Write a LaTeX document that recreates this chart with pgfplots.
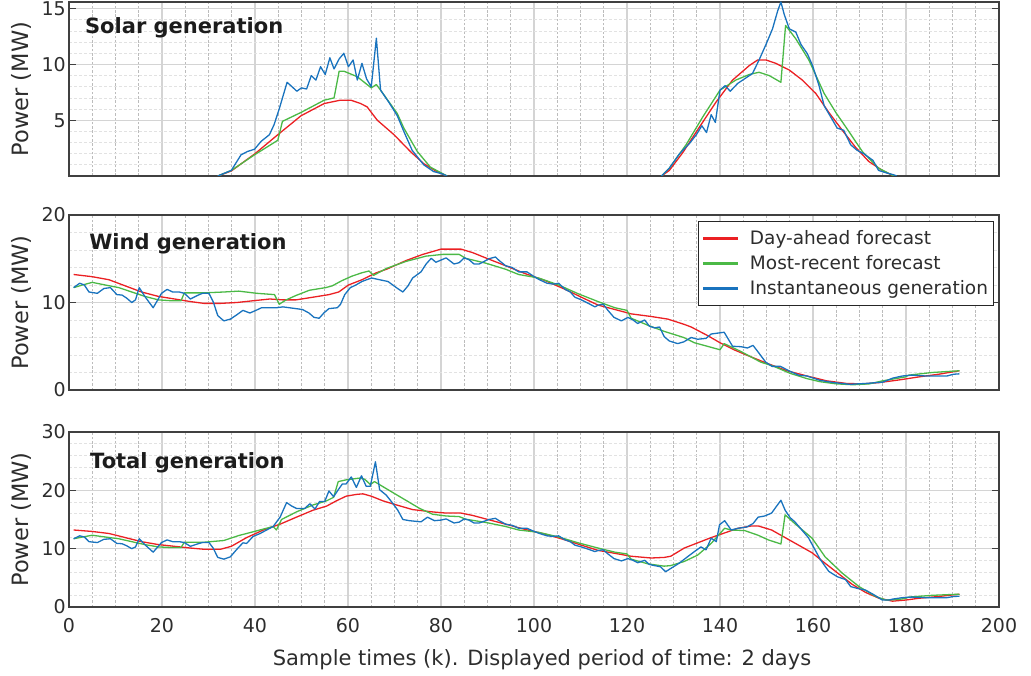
\documentclass[border=0pt]{standalone}
\usepackage{fontspec}
\setmainfont{DejaVu Sans}
\usepackage{pgfplots}
\pgfplotsset{compat=1.18}

\definecolor{dayahead}{RGB}{235,32,35}
\definecolor{recent}{RGB}{75,185,70}
\definecolor{instant}{RGB}{25,115,190}
\definecolor{gridmaj}{RGB}{212,212,212}
\definecolor{gridminx}{RGB}{188,188,188}
\definecolor{gridminy}{RGB}{226,226,226}
\definecolor{axisc}{RGB}{64,64,64}
\definecolor{labc}{RGB}{45,45,45}
\definecolor{titc}{RGB}{28,28,28}

\tikzset{paneltitle/.style={anchor=base west, font=\bfseries\fontsize{21}{24}\selectfont, text=titc}}

\pgfplotsset{
  panel/.style={
    scale only axis, width=930pt,
    xmin=0, xmax=200,
    xtick={0,20,...,200}, minor x tick num=3,
    grid=both,
    major grid style={draw=gridmaj, line width=1.2pt},
    minor x grid style={draw=gridminx, line width=0.8pt, dash pattern=on 2.5pt off 1.8pt},
    minor y grid style={draw=gridminy, line width=0.8pt, dash pattern=on 3pt off 2pt},
    axis line style={draw=axisc, line width=1.1pt},
    tick align=inside, major tick length=7pt, minor tick length=0pt,
    ytick style={draw=axisc, line width=1pt},
    xtick style={draw=none},
    tick label style={font=\fontsize{19}{22}\selectfont, text=labc},
    yticklabel style={inner sep=3pt},
    /pgf/number format/assume math mode=true,
    ylabel={Power (MW)},
    ylabel style={font=\fontsize{22.5}{26}\selectfont, text=labc,
      at={(axis description cs:-0.0366,0.5)}, anchor=south},
    every axis plot/.append style={line width=1.3pt, line join=round},
  },
}

\begin{document}
\begin{tikzpicture}[x=1pt,y=1pt]
\path[use as bounding box] (0,0) rectangle (1031,-676);

% ---------------- Solar generation ----------------
\begin{axis}[panel, at={(69pt,-2pt)}, anchor=north west, height=174pt,
  ymin=0, ymax=15.6, ytick={5,10,15},
  minor ytick={1,2,3,4,6,7,8,9,11,12,13,14},
  xticklabels={}]
% first day
\addplot[dayahead] coordinates {(32,0) (34.9,0.45) (40,2.0) (44.9,3.7) (49.9,5.4) (54.9,6.5) (58.4,6.8) (60.6,6.8) (62.7,6.5) (64.1,6.2) (66.3,5.0) (69.9,3.7) (73.4,2.2) (76.3,1.1) (79.1,0.4) (81.3,0)};
\addplot[recent] coordinates {(32,0) (34.9,0.5) (39.9,1.9) (44.9,3.2) (45.9,4.9) (49.9,5.7) (54.9,6.8) (57,7.0) (58.1,9.4) (59.1,9.4) (62,8.9) (65,7.9) (66.1,8.2) (67,7.7) (70.6,5.6) (72,4.3) (74.9,2.2) (77.7,0.8) (81.3,0)};
\addplot[instant] coordinates {(32,0) (34.9,0.5) (37,1.9) (38.4,2.2) (39.9,2.4) (41.3,3.1) (43.1,3.7) (44.1,4.6) (45.2,6.0) (46.9,8.4) (48.1,7.95) (49,7.6) (50,7.9) (51.1,7.8) (52.1,9.0) (53.1,8.6) (54.1,9.8) (55.1,9.1) (56.1,10.6) (57,9.6) (58.1,10.5) (59.1,11.0) (60.1,9.8) (61.1,10.4) (62,8.6) (63,10.1) (64,8.7) (65,8.0) (66.1,12.35) (67,7.7) (68.8,6.6) (70.6,5.4) (72,4.0) (73.8,2.3) (76.3,1.0) (78.4,0.4) (80.2,0.2) (81.3,0)};
% second day
\addplot[dayahead] coordinates {(127.4,0) (129.1,0.5) (132,2.1) (135.6,4.4) (139.1,6.6) (142.7,8.6) (146.3,9.9) (148.1,10.4) (149.9,10.4) (152,10.1) (154.9,9.5) (157.7,8.6) (160.6,7.4) (163.4,5.7) (166.3,4.1) (169.1,2.6) (172,1.3) (174.9,0.5) (177.4,0)};
\addplot[recent] coordinates {(127.4,0) (129.1,0.7) (132.7,2.8) (136.3,5.3) (140,7.7) (143.4,8.6) (146.3,9.1) (148.4,9.3) (150.6,9.0) (153.1,8.4) (154.1,13.5) (156.3,12.3) (159.1,10.4) (162.4,7.4) (164.9,5.7) (167.7,4.0) (170.6,2.2) (174.1,0.7) (177.4,0)};
\addplot[instant] coordinates {(127.4,0) (129.1,0.7) (131.3,2.0) (133.4,2.9) (134.9,3.7) (136.1,4.5) (137.1,3.9) (138.1,5.5) (139,4.8) (140,7.7) (141.1,8.1) (142.2,7.6) (143.8,8.3) (145.6,8.8) (147,9.2) (148.4,10.4) (149.9,11.8) (151.3,13.2) (152.4,14.8) (153.1,15.6) (153.8,14.5) (154.9,13.2) (156.3,12.9) (157.4,11.8) (158.8,10.95) (159.9,9.9) (161.3,8.1) (162.4,6.3) (163.8,5.3) (165.2,4.3) (166.6,4.1) (168.1,2.8) (169.5,2.3) (170.9,2.0) (172.9,1.4) (174.1,0.5) (175.6,0.3) (177.4,0.1) (178,0)};
\node[paneltitle] at (axis description cs:0.0135,0.819) {Solar generation};
\end{axis}

% ---------------- Wind generation ----------------
\begin{axis}[panel, at={(69pt,-215pt)}, anchor=north west, height=175pt,
  ymin=0, ymax=20, ytick={0,10,20},
  minor ytick={2,4,6,8,12,14,16,18},
  xticklabels={},
  legend cell align=left,
  legend image code/.code={\draw[#1, line width=3pt] (0pt,0pt) -- (35pt,0pt);
    \path[draw=none] (0pt,0pt) (44pt,0pt);},
  legend style={at={(0.9946,0.9657)}, anchor=north east, draw=black!85,
    line width=1pt, fill=white, font=\fontsize{18.5}{21}\selectfont, text=labc,
    inner xsep=3pt, inner ysep=6.5pt, row sep=4.5pt, nodes={inner sep=2.5pt}}]
\addplot[dayahead] coordinates {(1,13.2) (5,12.95) (8.6,12.6) (12.1,11.9) (15.6,11.2) (19.2,10.7) (22.7,10.4) (26.2,10.1) (29,9.9) (32.6,9.9) (36.1,10.0) (39.6,10.2) (43.2,10.4) (46,10.3) (48.8,10.3) (52.4,10.6) (55.9,10.9) (58,11.2) (60.1,12.0) (63,12.6) (66.1,13.4) (68.3,13.8) (72.5,14.8) (76.1,15.5) (80,16.1) (84.3,16.1) (86.8,15.7) (89.6,15.1) (93.9,14.2) (98.1,13.3) (102.4,12.5) (106.7,11.5) (110.2,10.6) (113.8,9.7) (118.1,9.1) (120.9,8.7) (125.2,8.4) (128.8,8.1) (132.3,7.5) (133.8,7.2) (137.4,6.2) (140,5.4) (143,4.6) (146.6,3.8) (150.1,3.05) (154.4,2.2) (158.7,1.6) (162.9,1.05) (167.2,0.75) (170.7,0.7) (174.3,0.85) (178.5,1.15) (182.8,1.5) (187,1.8) (191.5,2.2)};
\addlegendentry{Day-ahead forecast}
\addplot[recent] coordinates {(1,11.7) (2.9,12.0) (5,12.3) (7.8,12.0) (10.7,11.7) (13.5,11.2) (16.3,10.7) (19.2,10.3) (22,10.2) (24.1,10.2) (24.8,11.1) (29,11.1) (33.3,11.2) (36.5,11.3) (40.4,11.05) (44.2,10.9) (45.2,9.8) (46.7,10.3) (48.8,10.8) (51.7,11.4) (55.2,11.7) (56.6,11.9) (58.7,12.5) (60.8,13.0) (63,13.4) (64.5,13.6) (65.5,13.1) (68.3,13.9) (72.5,14.7) (76.8,15.3) (80.4,15.5) (83.9,15.5) (85.3,15.05) (89.6,14.5) (93.9,13.8) (96.7,13.2) (101,12.8) (105.3,12.0) (109.5,11.0) (113.8,10.1) (117.4,9.4) (120,9.1) (120.9,8.2) (124.5,7.4) (128,6.7) (132.2,6.0) (134.5,5.4) (140,4.6) (140.9,5.3) (144.5,4.4) (148.7,3.2) (151.6,2.7) (155.1,1.9) (158.7,1.3) (161.5,0.95) (165,0.7) (168.6,0.6) (172.1,0.7) (175,1.05) (179.9,1.5) (180.6,1.7) (185.6,2.0) (191.5,2.2)};
\addlegendentry{Most-recent forecast}
\addplot[instant] coordinates {(1,11.7) (2.3,12.2) (3.3,12.0) (4.3,11.2) (6.1,11.05) (7.5,11.6) (8.9,11.7) (10.3,10.9) (11.4,10.85) (12.4,10.5) (13.5,10.0) (14.3,10.3) (15.1,11.7) (16.3,10.7) (18.1,9.4) (19.9,11.05) (21.1,11.5) (22.3,11.2) (23.7,11.2) (24.8,11.05) (26.1,10.4) (27.6,10.8) (28.7,11.05) (30.1,11.05) (31,10.1) (32,8.5) (33.3,7.9) (34.7,8.1) (36.1,8.6) (37.4,9.1) (38.9,8.8) (40.2,9.1) (41.4,9.4) (42.8,9.4) (44.6,9.4) (46,9.5) (47.4,9.4) (48.8,9.3) (50.2,9.2) (51.6,8.8) (52.7,8.3) (53.8,8.2) (54.8,8.8) (55.9,9.3) (57.7,9.4) (58.4,9.8) (59.3,10.9) (60.5,11.7) (61.7,12.0) (63,12.4) (64,12.6) (65.1,12.8) (66.8,12.6) (68.6,12.4) (70.4,11.7) (71.8,11.2) (72.9,11.9) (73.9,12.8) (75.7,13.5) (76.8,14.4) (77.9,15.05) (78.9,14.6) (81.1,15.1) (82.8,14.4) (83.9,14.55) (85,15.1) (86,14.9) (87.1,14.4) (88.2,14.4) (89.3,14.7) (90.3,15.0) (91.7,15.2) (92.5,14.8) (93.9,14.2) (95.3,14.0) (96.7,13.5) (98.5,13.5) (99.6,13.1) (101,12.65) (102.8,12.2) (104.2,12.1) (105.3,12.2) (106.7,11.5) (107.8,11.2) (108.8,10.6) (110.2,10.3) (111.7,9.9) (113.1,9.5) (113.8,9.7) (114.9,9.8) (115.9,9.1) (117.2,8.3) (118.8,7.9) (120.2,8.3) (121.3,8.0) (122.3,7.6) (123.8,8.0) (124.8,7.3) (125.9,7.1) (127,7.2) (128,6.1) (129.1,5.6) (130.9,5.3) (132.2,5.5) (133.8,6.0) (135.2,5.8) (137,5.9) (138.1,6.4) (140.9,6.6) (142.7,5.0) (144.5,4.95) (145.9,4.8) (147.1,5.1) (148.4,4.2) (149.8,3.2) (151.2,2.7) (153,2.7) (154.8,2.2) (156.9,1.7) (158.7,1.6) (161.5,1.1) (164.4,0.85) (167.9,0.65) (171.4,0.75) (175,0.9) (177.1,1.35) (179.2,1.6) (181.3,1.7) (184.2,1.6) (187,1.6) (188.8,1.6) (190.2,1.8) (191.5,1.85)};
\addlegendentry{Instantaneous generation}
\node[paneltitle] at (axis description cs:0.018,0.8) {Wind generation};
\end{axis}

% ---------------- Total generation ----------------
\begin{axis}[panel, at={(69pt,-432pt)}, anchor=north west, height=175pt,
  ymin=0, ymax=30, ytick={0,10,20,30},
  minor ytick={2,4,6,8,12,14,16,18,22,24,26,28},
  xticklabel style={yshift=-8pt},
  xlabel={Sample times (k). Displayed period of time: 2 days},
  xlabel style={font=\fontsize{21}{24}\selectfont, text=labc,
    at={(axis description cs:0.5086,0)}, anchor=base, yshift=-58pt}]
\addplot[dayahead] coordinates {(1,13.2) (5,12.95) (8.6,12.6) (12.1,11.9) (15.6,11.2) (19.2,10.7) (22.7,10.4) (26.2,10.1) (29,9.9) (32.6,9.9) (34.9,10.4) (38.2,11.9) (41.8,13.2) (45.4,14.2) (48.9,15.4) (52.5,16.6) (55.4,17.3) (57.5,18.2) (59.6,19.0) (61.8,19.3) (63.2,19.4) (65,19.0) (67.5,18.2) (70.4,17.5) (73.9,16.7) (78.2,16.3) (81.1,16.1) (84.3,16.1) (86.8,15.7) (89.6,15.1) (93.9,14.2) (98.1,13.3) (102.4,12.5) (106.7,11.5) (110.2,10.6) (113.8,9.7) (118.1,9.1) (120.9,8.7) (125.2,8.4) (128,8.5) (129.4,8.7) (132.3,10.1) (135.2,11.0) (138.1,11.9) (141,12.7) (143.9,13.5) (146.8,13.9) (148.2,13.9) (151.1,13.2) (154,11.9) (156.9,10.6) (159.8,9.3) (162.6,7.5) (165.5,5.7) (168.4,3.9) (171.3,2.5) (174.2,1.5) (177.1,1.0) (180,1.2) (182.8,1.5) (187,1.8) (191.5,2.2)};
\addplot[recent] coordinates {(1,11.7) (2.9,12.0) (5,12.3) (7.8,12.0) (10.7,11.7) (13.5,11.2) (16.3,10.7) (19.2,10.3) (22,10.2) (24.1,10.2) (24.8,11.1) (29,11.1) (33.3,11.4) (36.5,12.25) (38.2,12.6) (43.9,13.8) (44.6,13.2) (45.7,15.0) (48.9,16.3) (52.5,17.5) (55.4,18.2) (56.9,18.8) (57.9,21.5) (59.6,21.8) (62.5,22.1) (63.6,21.9) (64.8,21.0) (65.7,21.5) (68.2,20.3) (71.8,18.6) (75.4,16.9) (78.2,15.9) (81.1,15.6) (83.9,15.5) (85.3,15.05) (89.6,14.5) (93.9,13.8) (96.7,13.2) (101,12.8) (105.3,12.0) (109.5,11.0) (113.8,10.1) (117.4,9.4) (120,9.1) (120.9,8.2) (124.5,7.4) (128,7.0) (129.4,7.1) (132.3,7.8) (135.2,8.9) (138.1,10.9) (141,13.5) (142.4,13.2) (145.3,13.1) (148.2,12.3) (150.4,11.5) (153.1,10.8) (154,15.8) (156.1,14.3) (159.8,11.8) (162.6,8.6) (166.3,5.8) (169.9,3.5) (173.5,1.8) (175.7,1.2) (178.5,1.3) (179.9,1.5) (180.6,1.7) (185.6,2.0) (191.5,2.2)};
\addplot[instant] coordinates {(1,11.7) (2.3,12.2) (3.3,12.0) (4.3,11.2) (6.1,11.05) (7.5,11.6) (8.9,11.7) (10.3,10.9) (11.4,10.85) (12.4,10.5) (13.5,10.0) (14.3,10.3) (15.1,11.7) (16.3,10.7) (18.1,9.4) (19.9,11.05) (21.1,11.5) (22.3,11.2) (23.7,11.2) (24.8,11.05) (26.1,10.4) (27.6,10.8) (28.7,11.05) (30.1,11.05) (31,10.1) (32,8.5) (33.3,8.2) (34.7,8.6) (36.1,9.9) (37.4,11.0) (38.2,10.9) (39.6,12.1) (41.1,12.6) (42.5,13.2) (43.9,13.8) (45.4,15.4) (46.8,17.9) (47.9,17.3) (48.9,16.9) (50.7,16.9) (51.8,17.7) (52.9,16.8) (53.9,18.1) (55,18.1) (55.9,19.9) (56.9,18.9) (57.9,20.1) (58.8,21.1) (59.6,21.1) (60.7,22.3) (61.8,20.5) (62.9,22.5) (63.9,20.7) (64.8,20.7) (65.9,24.9) (66.8,20.1) (68.2,19.2) (69.6,17.8) (70.7,16.6) (71.8,15.0) (73.2,14.8) (75.7,14.6) (77.1,15.4) (78.6,14.8) (80,14.9) (81.1,15.1) (82.8,14.4) (83.9,14.55) (85,15.1) (86,14.9) (87.1,14.4) (88.2,14.4) (89.3,14.7) (90.3,15.0) (91.7,15.2) (92.5,14.8) (93.9,14.2) (95.3,14.0) (96.7,13.5) (98.5,13.5) (99.6,13.1) (101,12.65) (102.8,12.2) (104.2,12.1) (105.3,12.2) (106.7,11.5) (107.8,11.2) (108.8,10.6) (110.2,10.3) (111.7,9.9) (113.1,9.5) (113.8,9.7) (114.9,9.8) (115.9,9.1) (117.2,8.3) (118.8,7.9) (120.2,8.3) (121.3,8.0) (122.3,7.6) (123.8,8.0) (124.8,7.3) (125.9,7.1) (127.2,6.9) (128.3,6.05) (129.4,6.6) (131.2,7.5) (133,8.6) (134.5,9.5) (135.9,10.3) (137,9.8) (138.1,11.8) (139.2,11.2) (139.9,14.1) (141,14.8) (142.4,13.2) (143.9,13.5) (145.7,13.7) (147.1,14.3) (148.2,15.4) (149.6,15.6) (151.1,16.1) (152,17.1) (153.1,18.3) (154,16.6) (155.1,15.3) (156.1,14.6) (157.6,13.2) (159,11.9) (160.1,10.3) (161.6,8.1) (163.4,6.1) (165.2,5.2) (167,4.7) (168.1,3.5) (169.5,3.2) (171.3,2.9) (173.1,2.1) (174.9,1.2) (176.4,1.2) (177.1,1.35) (179.2,1.6) (181.3,1.7) (184.2,1.6) (187,1.6) (188.8,1.6) (190.2,1.8) (191.5,1.85)};
\node[paneltitle] at (axis description cs:0.019,0.794) {Total generation};
\end{axis}
\end{tikzpicture}
\end{document}
